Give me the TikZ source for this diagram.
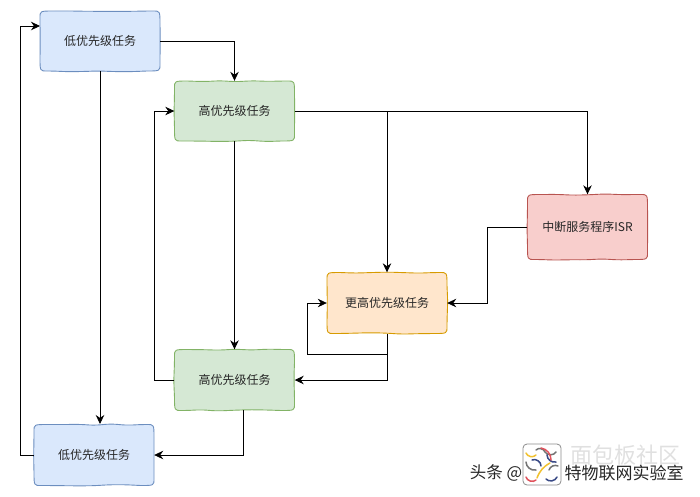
\documentclass[tikz,border=0pt]{standalone}
\usepackage{fontspec}
\setmainfont{Noto Sans CJK SC}
\usepackage{xcolor}
\usetikzlibrary{arrows.meta,decorations.pathmorphing}
\definecolor{lowfill}{HTML}{DAE8FC}
\definecolor{lowline}{HTML}{6C8EBF}
\definecolor{highfill}{HTML}{D5E8D4}
\definecolor{highline}{HTML}{82B366}
\definecolor{higherfill}{HTML}{FFE6CC}
\definecolor{higherline}{HTML}{D79B00}
\definecolor{isrfill}{HTML}{F8CECC}
\definecolor{isrline}{HTML}{B85450}
\definecolor{logored}{HTML}{E0525C}
\definecolor{logoyellow}{HTML}{F2C230}
\definecolor{logonavy}{HTML}{3A4A86}
\pgfmathsetseed{11}
\tikzset{
taskbox/.style={inner sep=0pt,minimum width=120pt,font=\fontsize{12}{14}\selectfont,text=black!85},
wobble/.style={decorate,decoration={random steps,segment length=16pt,amplitude=0.85pt},rounded corners=6pt},
link/.style={-{Stealth[length=9pt,width=8.5pt]},line width=0.8pt},
logoarc/.style={line width=1.5pt,line cap=round}
}
% name, centre x, centre y, height, fill, line, text
\newcommand{\taskat}[7]{
\draw[fill=#5,draw=#6,line width=0.9pt]
(#2-47,#3-#4/2)decorate[wobble]{--(#2+47,#3-#4/2)}
..controls(#2+60,#3-#4/2)..(#2+60,#3-#4/2+13)decorate[wobble]{--(#2+60,#3+#4/2-13)}
..controls(#2+60,#3+#4/2)..(#2+47,#3+#4/2)decorate[wobble]{--(#2-47,#3+#4/2)}
..controls(#2-60,#3+#4/2)..(#2-60,#3+#4/2-13)decorate[wobble]{--(#2-60,#3-#4/2+13)}
..controls(#2-60,#3-#4/2)..(#2-47,#3-#4/2)--cycle;
\node[taskbox,minimum height=#4 pt](#1)at(#2,#3){#7};
}
\begin{document}
\begin{tikzpicture}[x=1pt,y=-1pt]
\useasboundingbox(0,0)rectangle(700,496);
\taskat{low1}{100}{41}{60}{lowfill}{lowline}{低优先级任务}
\taskat{high1}{234.5}{111}{60}{highfill}{highline}{高优先级任务}
\taskat{isr}{587.5}{227}{65}{isrfill}{isrline}{中断服务程序ISR}
\taskat{higher}{387}{303}{61}{higherfill}{higherline}{更高优先级任务}
\taskat{high2}{234.5}{380}{61}{highfill}{highline}{高优先级任务}
\taskat{low2}{94}{455}{61}{lowfill}{lowline}{低优先级任务}
% waypoints of the elbows
\coordinate(lowin)at(40,26);
\coordinate(lowturn)at(20,26);
\coordinate(lowdown)at(100,424);
\coordinate(highturn)at(154.5,111);
\coordinate(split)at(387,111);
\coordinate(isrturn)at(487,227);
\coordinate(loop)at(387,354.5);
\coordinate(loopturn)at(307,354.5);
\coordinate(drop)at(243.5,410);
\draw[link](low1.east)-|(high1.north);
\draw[link](low1.south-|lowdown)--(lowdown);
\draw[link](low2.west)-|(lowturn)--(lowin);
\draw[link](high1.south)--(high2.north);
\draw[link](high2.west)-|(highturn)--(high1.west);
\draw[link](high1.east)-|(isr.north);
\draw[link](split)--(higher.north);
\draw[link](isr.west)-|(isrturn)|-(higher.east);
\draw[link](higher.south)|-(high2.east);
\draw[link](loop)--(loopturn)|-(higher.west);
\draw[link](drop)|-(low2.east);
% corner marks
\node[text=black!12,font=\fontsize{22}{24}\selectfont,inner sep=0pt](board)at(625,455){面包板社区};
\node[text=black!85,font=\fontsize{16.5}{18}\selectfont,inner sep=0pt](head)at(496,473){头条 @};
\node[text=black!85,font=\fontsize{17}{19}\selectfont,inner sep=0pt](lab)at(624,473){特物联网实验室};
\draw[fill=white,draw=black!45,line width=0.8pt,rounded corners=4pt](523,444)rectangle(561,485);
\draw[logoarc,logoyellow](526,453)to[bend right=60](536,455);
\draw[logoarc,black!55](536,450)to[bend left=60](545,452)to[bend right=60](556,452);
\draw[logoarc,black!55](526,462)to[bend right=50](536,470);
\draw[logoarc,logonavy](532,460)to[bend left=60](541,466);
\draw[logoarc,logonavy](547,455)to[bend right=50](556,462);
\draw[logoarc,logoyellow](537,478)to[bend left=20](550,463);
\draw[logoarc,logored](526,477)to[bend right=60](536,480);
\draw[logoarc,logored](541,448)to[bend left=40](551,460);
\draw[logoarc,logonavy](546,479)to[bend right=60](557,477);
\draw[logoarc,black!55](549,470)to[bend left=50](558,466);
\end{tikzpicture}
\end{document}
